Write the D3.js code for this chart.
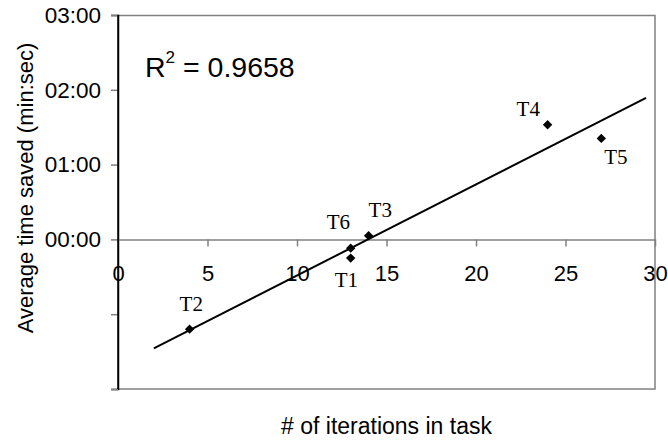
<!doctype html>
<html>
<head>
<meta charset="UTF-8">
<title>Time saved vs iterations</title>
<style>
  body { margin: 0; background: #fff; }
  text { font-family: "Liberation Sans", Arial, sans-serif; }
  .lbl { font-family: "Liberation Serif", "Times New Roman", serif; font-size: 21px; }
</style>
</head>
<body onload="scatter()">
<div id="chart"></div>
<script src="https://cdn.jsdelivr.net/npm/d3@7"></script>
<script>
// data (y in seconds)
var tasks = ['T1', 'T2', 'T3', 'T4', 'T5', 'T6'];
var iterations = [13, 4, 14, 24, 27, 13];
var secondsSaved = [-15, -72, 3, 92, 81, -7];
var xTicks = [0, 5, 10, 15, 20, 25, 30];
var yTicks = [-120, -60, 0, 60, 120, 180];
var trendRange = [2, 29.5];
var r2Text = '0.9658';

// where each task label sits relative to its point
var labelOffset = {T1: [-16, 29], T2: [-10, -18], T3: [0, -19], T4: [-31, -9], T5: [3, 26], T6: [-24, -19]};

function fmt(s) {
  if (s < 0) return '';
  var m = Math.floor(s / 60), sec = s % 60;
  return (m < 10 ? '0' : '') + m + ':' + (sec < 10 ? '0' : '') + sec;
}

function scatter() {
  var margin = {top: 15, right: 13, bottom: 56, left: 118},
      width = 668 - margin.left - margin.right,
      height = 445 - margin.top - margin.bottom;

  var svg = d3.select('#chart')
    .append('svg')
      .attr('width', 668)
      .attr('height', 445)
    .append('g')
      .attr('transform', 'translate(' + margin.left + ',' + margin.top + ')');

  var x = d3.scaleLinear().domain([0, 30]).range([0, width]);
  var y = d3.scaleLinear().domain([-120, 180]).range([height, 0]);

  // plot frame (grey) - top, right, bottom
  svg.append('path')
    .attr('d', 'M0,0.5H' + width + 'V' + height + 'H0')
    .attr('fill', 'none')
    .attr('stroke', '#808080')
    .attr('stroke-width', 1.5);

  // y axis
  var yAxis = svg.append('g')
    .call(d3.axisLeft(y).tickValues(yTicks).tickFormat(fmt).tickSize(7).tickPadding(10));
  yAxis.select('.domain').attr('stroke', '#000').attr('stroke-width', 1.5);
  yAxis.selectAll('.tick line').attr('stroke', '#808080').attr('stroke-width', 1.5);
  yAxis.selectAll('text').style('font-size', '22.5px').attr('fill', '#000');

  // x axis on the zero line
  var xAxis = svg.append('g')
    .attr('transform', 'translate(0,' + y(0) + ')')
    .call(d3.axisBottom(x).tickValues(xTicks).tickSize(7).tickSizeOuter(0).tickPadding(19));
  xAxis.select('.domain').attr('stroke', '#808080').attr('stroke-width', 1.5);
  xAxis.selectAll('.tick line').attr('stroke', '#808080').attr('stroke-width', 1.5);
  xAxis.selectAll('text').style('font-size', '22px').attr('fill', '#000');
  xAxis.selectAll('.tick').filter(function(d) { return d === 0; }).select('line').remove();

  // redraw left axis over zero line
  svg.append('line')
    .attr('x1', 0).attr('x2', 0).attr('y1', 0).attr('y2', height)
    .attr('stroke', '#000').attr('stroke-width', 1.5);

  // least squares trendline
  var n = iterations.length;
  var mx = d3.mean(iterations), my = d3.mean(secondsSaved);
  var sxy = 0, sxx = 0;
  for (var i = 0; i < n; i++) {
    sxy += (iterations[i] - mx) * (secondsSaved[i] - my);
    sxx += (iterations[i] - mx) * (iterations[i] - mx);
  }
  var slope = sxy / sxx, icpt = my - slope * mx;
  svg.append('line')
    .attr('x1', x(trendRange[0])).attr('y1', y(icpt + slope * trendRange[0]))
    .attr('x2', x(trendRange[1])).attr('y2', y(icpt + slope * trendRange[1]))
    .attr('stroke', '#000').attr('stroke-width', 2);

  var data = tasks.map(function(t, i) { return {name: t, x: iterations[i], y: secondsSaved[i]}; });

  // diamonds
  svg.selectAll('mydiamond')
    .data(data)
    .join('path')
      .attr('d', d3.symbol().type(d3.symbolSquare).size(44))
      .attr('transform', function(d) { return 'translate(' + x(d.x) + ',' + y(d.y) + ') rotate(45)'; })
      .attr('fill', '#000');

  // labels
  svg.selectAll('mylabel')
    .data(data)
    .join('text')
      .attr('class', 'lbl')
      .attr('x', function(d) { return x(d.x) + labelOffset[d.name][0]; })
      .attr('y', function(d) { return y(d.y) + labelOffset[d.name][1]; })
      .text(function(d) { return d.name; });

  // R squared
  var r2 = svg.append('text')
    .attr('x', 27).attr('y', 62)
    .style('font-size', '28.5px');
  r2.append('tspan').text('R');
  r2.append('tspan').style('font-size', '17px').attr('dy', -14).text('2');
  r2.append('tspan').attr('dy', 14).text(' = ' + r2Text);

  // axis titles
  svg.append('text')
    .attr('x', width / 2).attr('y', 419)
    .attr('text-anchor', 'middle')
    .style('font-size', '23px')
    .text('# of iterations in task');

  svg.append('text')
    .attr('transform', 'translate(' + (33 - margin.left) + ',173) rotate(-90)')
    .attr('text-anchor', 'middle')
    .style('font-size', '22px')
    .text('Average time saved (min:sec)');
}
</script>
</body>
</html>
